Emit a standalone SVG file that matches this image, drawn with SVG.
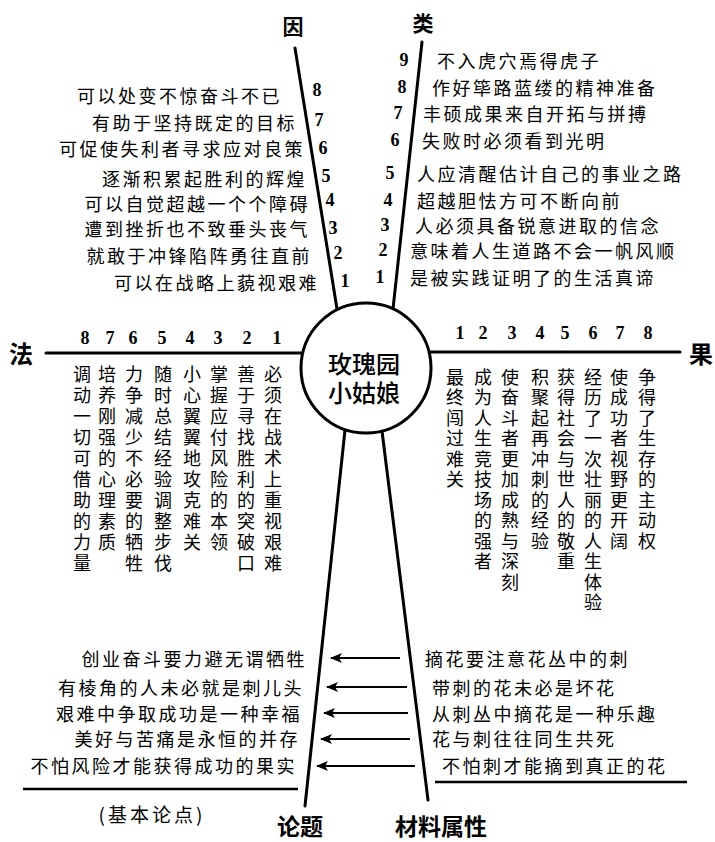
<svg xmlns="http://www.w3.org/2000/svg" width="715" height="842" viewBox="0 0 715 842">
<style>
text { fill: #000; }
.t { font-family: "Noto Sans CJK SC", "Noto Sans CJK JP", sans-serif; font-size: 18px; letter-spacing: 2.5px; dominant-baseline: central; }
.e { text-anchor: end; }
.n { font-family: "Liberation Serif", serif; font-size: 18px; font-weight: bold; text-anchor: middle; dominant-baseline: central; }
.v { font-family: "Noto Sans CJK SC", "Noto Sans CJK JP", sans-serif; font-size: 18px; writing-mode: vertical-rl; letter-spacing: 3px; }
.vr { letter-spacing: 2.5px; }
.lbl { font-family: "Noto Sans CJK SC", "Noto Sans CJK JP", sans-serif; font-size: 24px; font-weight: bold; text-anchor: middle; dominant-baseline: central; }
.ctr { font-family: "Noto Sans CJK SC", "Noto Sans CJK JP", sans-serif; font-size: 24px; font-weight: 500; text-anchor: middle; dominant-baseline: central; }
.ln { stroke: #000; stroke-width: 3; fill: none; stroke-linecap: round; }
.ul { stroke: #000; stroke-width: 2.5; fill: none; }
.ar { stroke: #000; stroke-width: 1.8; fill: none; marker-end: url(#ah); }
</style>
<defs>
<marker id="ah" viewBox="0 0 12 10" refX="11" refY="5" markerWidth="12" markerHeight="10" markerUnits="userSpaceOnUse" orient="auto">
<path d="M0,0 L12,5 L0,10 L3,5 Z" fill="#000"/>
</marker>
</defs>

<g id="connectors">
<line class="ln" x1="295" y1="48" x2="337" y2="309"/>
<line class="ln" x1="422" y1="42" x2="393" y2="309"/>
<line class="ln" x1="46" y1="353" x2="301" y2="353"/>
<line class="ln" x1="431" y1="352" x2="680" y2="352"/>
<line class="ln" x1="345" y1="430" x2="305" y2="806"/>
<line class="ln" x1="382" y1="431" x2="428" y2="800"/>
<line class="ar" x1="400" y1="658" x2="331" y2="658"/>
<line class="ar" x1="407" y1="687" x2="327" y2="687"/>
<line class="ar" x1="408" y1="713" x2="324" y2="713"/>
<line class="ar" x1="410" y1="739" x2="321" y2="739"/>
<line class="ar" x1="415" y1="766" x2="317" y2="766"/>
<line class="ul" x1="23" y1="789" x2="298" y2="789"/>
<line class="ul" x1="435" y1="782" x2="687" y2="782"/>
</g>

<g id="center">
<circle cx="366" cy="368" r="65" fill="#fff" stroke="#000" stroke-width="3"/>
<text class="ctr"><tspan x="364" y="362">玫瑰园</tspan><tspan x="364" y="391">小姑娘</tspan></text>
</g>

<g id="yin">
<text class="lbl" x="293" y="25" style="font-size:21px">因</text>
<text class="t e" x="282" y="95">可以处变不惊奋斗不已</text>
<text class="t e" x="297" y="122">有助于坚持既定的目标</text>
<text class="t e" x="305" y="148">可促使失利者寻求应对良策</text>
<text class="t e" x="307" y="178">逐渐积累起胜利的辉煌</text>
<text class="t e" x="310" y="203">可以自觉超越一个个障碍</text>
<text class="t e" x="310" y="228">遭到挫折也不致垂头丧气</text>
<text class="t e" x="312" y="255">就敢于冲锋陷阵勇往直前</text>
<text class="t e" x="319" y="282">可以在战略上藐视艰难</text>
<text class="n" x="317" y="90">8</text>
<text class="n" x="319" y="120">7</text>
<text class="n" x="323" y="148">6</text>
<text class="n" x="326" y="176">5</text>
<text class="n" x="330" y="200">4</text>
<text class="n" x="333" y="228">3</text>
<text class="n" x="338" y="253">2</text>
<text class="n" x="345" y="281">1</text>
</g>

<g id="lei">
<text class="lbl" x="423" y="22" style="font-size:21px">类</text>
<text class="t" x="437" y="60">不入虎穴焉得虎子</text>
<text class="t" x="432" y="87">作好筚路蓝缕的精神准备</text>
<text class="t" x="423" y="113">丰硕成果来自开拓与拼搏</text>
<text class="t" x="422" y="140">失败时必须看到光明</text>
<text class="t" x="417" y="173">人应清醒估计自己的事业之路</text>
<text class="t" x="417" y="200">超越胆怯方可不断向前</text>
<text class="t" x="415" y="225">人必须具备锐意进取的信念</text>
<text class="t" x="410" y="250">意味着人生道路不会一帆风顺</text>
<text class="t" x="410" y="277">是被实践证明了的生活真谛</text>
<text class="n" x="404" y="60">9</text>
<text class="n" x="402" y="87">8</text>
<text class="n" x="398" y="113">7</text>
<text class="n" x="395" y="140">6</text>
<text class="n" x="390" y="173">5</text>
<text class="n" x="388" y="200">4</text>
<text class="n" x="385" y="225">3</text>
<text class="n" x="383" y="250">2</text>
<text class="n" x="380" y="277">1</text>
</g>

<g id="fa">
<text class="lbl" x="21" y="352">法</text>
<text class="n" x="85" y="338">8</text>
<text class="n" x="110" y="338">7</text>
<text class="n" x="133" y="338">6</text>
<text class="n" x="162" y="338">5</text>
<text class="n" x="190" y="338">4</text>
<text class="n" x="218" y="338">3</text>
<text class="n" x="247" y="338">2</text>
<text class="n" x="277" y="338">1</text>
<text class="v" x="273" y="365">必须在战术上重视艰难</text>
<text class="v" x="246" y="365">善于寻找胜利的突破口</text>
<text class="v" x="219" y="365">掌握应付风险的本领</text>
<text class="v" x="192" y="365">小心翼翼地攻克难关</text>
<text class="v" x="163" y="365">随时总结经验调整步伐</text>
<text class="v" x="134" y="365">力争减少不必要的牺牲</text>
<text class="v" x="107" y="365">培养刚强的心理素质</text>
<text class="v" x="82" y="365">调动一切可借助的力量</text>
</g>

<g id="guo">
<text class="lbl" x="701" y="352">果</text>
<text class="n" x="460" y="333">1</text>
<text class="n" x="483" y="333">2</text>
<text class="n" x="512" y="333">3</text>
<text class="n" x="540" y="333">4</text>
<text class="n" x="565" y="333">5</text>
<text class="n" x="593" y="333">6</text>
<text class="n" x="620" y="333">7</text>
<text class="n" x="648" y="333">8</text>
<text class="v vr" x="455" y="368">最终闯过难关</text>
<text class="v vr" x="483" y="368">成为人生竞技场的强者</text>
<text class="v vr" x="510" y="368">使奋斗者更加成熟与深刻</text>
<text class="v vr" x="540" y="368">积聚起再冲刺的经验</text>
<text class="v vr" x="566" y="368">获得社会与世人的敬重</text>
<text class="v vr" x="593" y="368">经历了一次壮丽的人生体验</text>
<text class="v vr" x="619" y="368">使成功者视野更开阔</text>
<text class="v vr" x="647" y="368">争得了生存的主动权</text>
</g>

<g id="lunti">
<text class="lbl" x="300" y="825" style="font-size:23px">论题</text>
<text class="t e" x="307" y="658">创业奋斗要力避无谓牺牲</text>
<text class="t e" x="304" y="687">有棱角的人未必就是刺儿头</text>
<text class="t e" x="302" y="713">艰难中争取成功是一种幸福</text>
<text class="t e" x="300" y="738">美好与苦痛是永恒的并存</text>
<text class="t e" x="297" y="765">不怕风险才能获得成功的果实</text>
<text class="t" x="152" y="813" style="text-anchor:middle;font-size:19px;letter-spacing:3px">(基本论点)</text>
</g>

<g id="cailiao">
<text class="lbl" x="441" y="825" style="font-size:23px">材料属性</text>
<text class="t" x="425" y="658">摘花要注意花丛中的刺</text>
<text class="t" x="432" y="687">带刺的花未必是坏花</text>
<text class="t" x="432" y="713">从刺丛中摘花是一种乐趣</text>
<text class="t" x="432" y="738">花与刺往往同生共死</text>
<text class="t" x="442" y="765">不怕刺才能摘到真正的花</text>
</g>
</svg>
